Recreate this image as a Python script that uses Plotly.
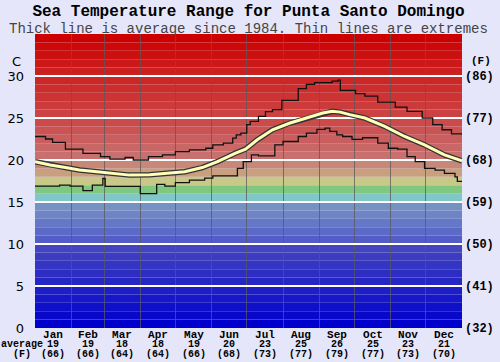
import numpy as np
import plotly.graph_objects as go

# ---------------- data ----------------
months = ["Jan", "Feb", "Mar", "Apr", "May", "Jun", "Jul", "Aug", "Sep", "Oct", "Nov", "Dec"]
month_days = [31, 28, 31, 30, 31, 30, 31, 31, 30, 31, 30, 31]
avg_c_labels = [19, 19, 18, 18, 19, 20, 23, 25, 26, 25, 23, 21]
avg_f_labels = [66, 66, 64, 64, 66, 68, 73, 77, 79, 77, 73, 70]

c_ticks = [0, 5, 10, 15, 20, 25, 30]
f_ticks = [32, 41, 50, 59, 68, 77, 86]

# extremes (step lines): day of year where value changes, and the value (deg C)
max_day = [0, 9, 15, 26, 41, 56, 64, 77, 84, 97, 109, 120, 132, 146, 152, 161, 169, 172,
           176, 181, 184, 191, 197, 203, 211, 225, 232, 239, 254, 259, 261, 274, 282, 293,
           308, 318, 331, 340, 348, 356, 365]
max_temp = [22.8, 22.5, 22.1, 21.3, 20.8, 20.4, 20.1, 20.3, 20.0, 20.4, 20.6, 21.0, 21.2,
            21.4, 21.8, 22.0, 22.6, 23.0, 23.2, 24.2, 24.6, 25.2, 25.75, 26.0, 27.1, 28.5,
            29.0, 29.2, 29.4, 29.5, 28.3, 27.9, 27.6, 26.9, 26.3, 25.8, 25.0, 24.2, 23.6,
            23.1, 23.0]

min_day = [0, 21, 30, 41, 49, 58, 60, 90, 104, 111, 120, 132, 145, 152, 173, 178, 185,
           191, 205, 212, 225, 232, 241, 248, 252, 258, 263, 271, 280, 293, 302, 310, 318,
           325, 333, 342, 350, 359, 361, 365]
min_temp = [16.9, 17.0, 16.9, 16.35, 17.0, 17.8, 16.85, 16.0, 17.1, 16.9, 17.3, 17.6,
            17.85, 18.1, 19.0, 19.8, 20.6, 20.5, 21.8, 22.2, 22.8, 23.2, 23.65, 23.8, 23.4,
            23.0, 22.8, 22.45, 22.65, 22.0, 21.4, 21.3, 20.4, 19.8, 19.0, 18.8, 18.4, 18.0,
            17.45, 17.45]

avg_day = [0, 13, 26, 38, 53, 67, 81, 98, 114, 128, 143, 156, 171, 180, 190, 203, 218,
           232, 246, 254, 261, 269, 282, 299, 316, 333, 350, 365]
avg_temp = [19.8, 19.4, 19.1, 18.8, 18.6, 18.4, 18.2, 18.25, 18.4, 18.6, 19.1, 19.8, 20.8,
            21.3, 22.4, 23.6, 24.4, 25.0, 25.6, 25.8, 25.7, 25.4, 25.0, 24.0, 22.8, 21.8,
            20.6, 19.9]

# background temperature bands (one per degree, 0..35)
band_anchor_t = [0, 9, 10, 14, 15, 16, 17, 18, 19, 20, 25, 30, 34]
band_anchor_rgb = [(0, 0, 204), (68, 68, 192), (84, 92, 200), (118, 146, 196),
                   (128, 200, 200), (128, 200, 128), (200, 200, 136), (200, 160, 128),
                   (200, 136, 120), (200, 112, 112), (204, 66, 66), (204, 32, 32),
                   (204, 0, 0)]

# ---------------- build ----------------
edges = np.concatenate([[0], np.cumsum(month_days)])
centers = (edges[:-1] + edges[1:]) / 2

n_bands = 35
band_colors = []
for t in range(n_bands):
    rgb = [int(round(np.interp(t, band_anchor_t, [c[k] for c in band_anchor_rgb]))) for k in range(3)]
    band_colors.append("rgb(%d,%d,%d)" % tuple(rgb))

mono = "Liberation Mono, Courier New, monospace"

fig = go.Figure()
fig.add_trace(go.Scatter(x=max_day, y=max_temp, mode="lines", line=dict(color="#111", width=1.3, shape="hv"),
                         hoverinfo="skip", showlegend=False))
fig.add_trace(go.Scatter(x=min_day, y=min_temp, mode="lines", line=dict(color="#111", width=1.3, shape="hv"),
                         hoverinfo="skip", showlegend=False))
fig.add_trace(go.Scatter(x=avg_day, y=avg_temp, mode="lines", line=dict(color="#333", width=5.5),
                         hoverinfo="skip", showlegend=False))
fig.add_trace(go.Scatter(x=avg_day, y=avg_temp, mode="lines", line=dict(color="#ffffb8", width=3),
                         hoverinfo="skip", showlegend=False))
# empty trace so the Fahrenheit axis is drawn
fig.add_trace(go.Scatter(x=[], y=[], yaxis="y2", showlegend=False, hoverinfo="skip"))

# temperature colour bands behind the grid
shapes = []
for t, col in enumerate(band_colors):
    shapes.append(dict(type="rect", xref="x domain", yref="y", x0=0, x1=1, y0=t, y1=t + 1,
                       fillcolor=col, line=dict(width=0), layer="below"))


def py(px):
    """pixel row -> paper y (plot spans rows 34..328)"""
    return (328 - px) / 294


def ann(text, x, y, size, xref="paper", family=mono, color="#000", yanchor="middle"):
    return dict(text=text, xref=xref, yref="paper", x=x, y=y, xanchor="center", yanchor=yanchor,
                showarrow=False, borderpad=0, font=dict(family=family, size=size, color=color))


def sized(txt, px, bold=True, color=None):
    style = "font-size:%dpx" % px
    if color:
        style += ";color:%s" % color
    inner = "<b>%s</b>" % txt if bold else txt
    return "<span style='%s'>%s</span>" % (style, inner)


annotations = [
    # title + subtitle as one two-line text (line pitch ~16.5px)
    ann(sized("Sea Temperature Range for Punta Santo Domingo", 16) + "<br>"
        + sized("Thick line is average since 1984. Thin lines are extremes", 14, bold=False, color="#444"),
        0.5, py(19.8), 12.7),
    ann("C", (16 - 35) / 427, py(61), 13, family="DejaVu Sans"),
    ann("<b>(F)</b>", (481 - 35) / 427, py(61), 11),
]
# bottom block: month name / average C / (average F), one text per column
base = 7.3  # line pitch = 1.3 * base
annotations.append(ann(sized("&nbsp;", 11) + "<br>" + sized("average", 10) + "<br>" + sized("(F)", 10),
                       (22 - 35) / 427, py(344), base))
for cx, m, c, f in zip(centers, months, avg_c_labels, avg_f_labels):
    annotations.append(ann(sized(m, 11) + "<br>" + sized(str(c), 10) + "<br>" + sized("(%d)" % f, 10),
                           cx, py(344), base, xref="x"))

fig.update_layout(
    width=500, height=362,
    margin=dict(l=35, r=38, t=34, b=34, autoexpand=False),
    paper_bgcolor="#e6e6fa", plot_bgcolor="#e6e6fa",
    showlegend=False,
    xaxis=dict(range=[0, 365], tickmode="array", tickvals=list(centers), showticklabels=False,
               showgrid=False, zeroline=False, automargin=False, fixedrange=True,
               minor=dict(tickmode="array", tickvals=list(edges), showgrid=True,
                          gridcolor="rgba(90,90,90,0.75)", gridwidth=1, ticks="")),
    yaxis=dict(range=[0, 35], tickmode="array", tickvals=c_ticks, ticktext=[str(t) for t in c_ticks],
               showgrid=True, gridcolor="white", gridwidth=1.5, zeroline=False,
               tickfont=dict(family="DejaVu Sans", size=13, color="#000"), ticklabelstandoff=10,
               automargin=False, fixedrange=True),
    yaxis2=dict(range=[0, 35], overlaying="y", side="right", tickmode="array", tickvals=c_ticks,
                ticktext=["<b>(%d)</b>" % f for f in f_ticks], showgrid=False, zeroline=False,
                tickfont=dict(family=mono, size=12, color="#000"), ticklabelstandoff=2,
                automargin=False, fixedrange=True),
    shapes=shapes,
    annotations=annotations,
)

fig.write_html("out.html", config={"displayModeBar": False},
               post_script="document.body.style.margin='0';document.body.style.padding='0';"
                           "document.body.style.overflow='hidden';")
